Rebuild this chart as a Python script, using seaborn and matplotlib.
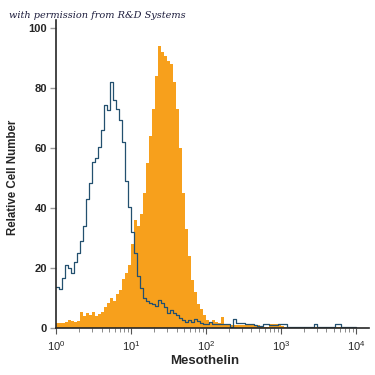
import numpy as np
import pandas as pd
import seaborn as sns
import matplotlib
matplotlib.use("Agg")
import matplotlib.pyplot as plt
from matplotlib.ticker import LogLocator, NullFormatter

# histogram counts, 100 bins of 0.04 decade from 10^0 to 10^4
isotype_counts = [
    13.8, 13.0, 16.6, 21.0, 20.0, 18.3, 22.0, 25.0, 29.0, 34.0,
    43.0, 48.5, 55.5, 56.7, 60.5, 66.0, 74.3, 72.7, 82.0, 76.0,
    73.0, 69.5, 62.0, 49.0, 40.5, 32.0, 25.0, 17.5, 13.5, 10.0,
    9.2, 8.5, 8.0, 7.5, 9.5, 8.5, 7.0, 5.0, 6.0, 5.0,
    4.3, 3.3, 2.7, 2.1, 2.7, 2.0, 3.0, 2.4, 1.8, 1.3,
    1.3, 2.0, 1.5, 1.5, 1.5, 1.5, 1.5, 1.5, 0.5, 2.9,
    1.8, 1.8, 1.8, 1.3, 1.3, 1.3, 1.0, 0.8, 0.8, 1.5,
    1.5, 1.2, 1.2, 1.2, 1.5, 1.5, 1.5, 0.5, 0.5, 0.5,
    0.5, 0.5, 0.5, 0.5, 0.5, 0.5, 1.3, 0.5, 0.5, 0.5,
    0.5, 0.5, 0.5, 1.3, 1.3, 0.5, 0.5, 0.5, 0.5, 0.5,
]
mesothelin_counts = [
    1.6, 1.6, 1.6, 2.2, 2.7, 2.5, 2.0, 2.5, 5.5, 4.0,
    5.0, 4.5, 5.5, 4.2, 4.8, 5.5, 7.0, 8.5, 10.0, 9.0,
    11.5, 12.7, 16.5, 18.3, 21.0, 28.0, 36.0, 34.0, 38.0, 45.0,
    55.0, 64.0, 73.0, 84.0, 94.0, 92.0, 90.5, 89.0, 88.0, 82.0,
    73.0, 60.0, 45.0, 33.0, 24.0, 16.0, 12.0, 8.0, 6.5, 4.3,
    2.7, 1.6, 2.7, 2.2, 1.8, 3.8, 1.3, 1.3, 1.2, 1.0,
    1.2, 1.0, 1.2, 1.0, 1.3, 1.5, 1.2, 1.2, 0.6, 0.5,
    0.5, 1.3, 1.3, 1.3, 1.3, 0.6, 0.3, 0.3, 0.3, 0.3,
    0.3, 0.3, 0.3, 0.3, 0.3, 0.3, 0.3, 0.3, 0.3, 0.3,
    0.3, 0.3, 0.3, 0.3, 0.3, 0.3, 0.3, 0.3, 0.3, 0.3,
]
y_ticks = [0, 20, 40, 60, 80, 100]
x_ticks = [1, 10, 100, 1000, 10000]
x_ticklabels = ["$10^0$", "$10^1$", "$10^2$", "$10^3$", "$10^4$"]

n_bins = len(isotype_counts)
centers = 10 ** (np.arange(n_bins) * 0.04 + 0.02)
df = pd.DataFrame({"fl": centers, "iso": isotype_counts, "meso": mesothelin_counts})

sns.set_style("ticks")
plt.rcParams["font.family"] = ["Liberation Sans", "DejaVu Sans"]
plt.rcParams["mathtext.fontset"] = "custom"
plt.rcParams["mathtext.rm"] = "Liberation Sans"

fig = plt.figure(figsize=(3.75, 3.75), dpi=100)
ax = fig.add_axes([0.148, 0.125, 0.836, 0.822])

sns.histplot(data=df, x="fl", weights="meso", bins=n_bins, binrange=(0, 4), log_scale=True,
             element="step", fill=True, color="#f7a01c", alpha=1, linewidth=0, ax=ax)
sns.histplot(data=df, x="fl", weights="iso", bins=n_bins, binrange=(0, 4), log_scale=True,
             element="step", fill=False, color="#23506f", linewidth=0.9, ax=ax)

ax.set_xlim(10 ** -0.013, 10 ** 4.17)
ax.set_ylim(0, 102.7)
sns.despine(ax=ax)
ax.spines["left"].set_linewidth(1.2)
ax.spines["bottom"].set_linewidth(1.2)

ax.set_yticks(y_ticks)
ax.set_yticklabels([str(t) for t in y_ticks], fontsize=8, fontweight="bold")
ax.tick_params(axis="y", length=4, width=1, color="#999999", pad=2)

ax.set_xticks(x_ticks)
ax.set_xticklabels(x_ticklabels, fontsize=8)
ax.xaxis.set_minor_locator(LogLocator(base=10, subs=np.arange(2, 10)))
ax.xaxis.set_minor_formatter(NullFormatter())
ax.tick_params(axis="x", which="major", length=4, width=0.8, color="#555555", pad=4)
ax.tick_params(axis="x", which="minor", length=3, width=0.6, color="#777777")

ax.set_xlabel("Mesothelin", fontsize=9.5, fontweight="bold")
ax.set_ylabel("Relative Cell Number", fontsize=8.3, fontweight="bold")
ax.yaxis.set_label_coords(-0.115, 0.49)
ax.xaxis.set_label_coords(0.477, -0.088)

fig.text(0.025, 0.952, "with permission from R&D Systems", fontsize=7,
         fontstyle="italic", family=["DejaVu Serif"], color="#1c1c3c")

fig.savefig("out.png", dpi=100)
